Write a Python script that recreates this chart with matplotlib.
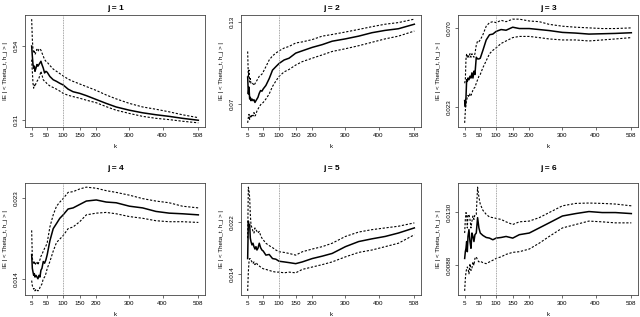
import numpy as np
import matplotlib
matplotlib.use("Agg")
import matplotlib.pyplot as plt

k = [5, 7, 9, 11, 13, 15, 18, 21, 24, 27, 30, 33, 36, 40, 44, 48, 52, 60, 70, 80,
     90, 100, 115, 130, 150, 170, 200, 230, 260, 300, 340, 380, 420, 460, 508]

# j = 1
mean1 = [0.539, 0.508, 0.482, 0.471, 0.477, 0.461, 0.471, 0.482, 0.477, 0.482, 0.487, 0.492,
         0.482, 0.471, 0.456, 0.461, 0.458, 0.445, 0.435, 0.430, 0.424, 0.419, 0.406, 0.398,
         0.393, 0.386, 0.374, 0.362, 0.351, 0.341, 0.333, 0.327, 0.322, 0.316, 0.310]
up1 = [0.622, 0.560, 0.529, 0.518, 0.523, 0.513, 0.520, 0.529, 0.523, 0.529, 0.531, 0.526,
       0.518, 0.508, 0.497, 0.492, 0.489, 0.479, 0.468, 0.461, 0.454, 0.447, 0.437, 0.430,
       0.422, 0.414, 0.402, 0.388, 0.376, 0.362, 0.351, 0.344, 0.336, 0.327, 0.318]
lo1 = [0.497, 0.461, 0.424, 0.409, 0.419, 0.414, 0.424, 0.430, 0.435, 0.440, 0.450, 0.461,
       0.450, 0.435, 0.430, 0.427, 0.422, 0.416, 0.411, 0.406, 0.400, 0.393, 0.387, 0.383,
       0.378, 0.372, 0.364, 0.352, 0.341, 0.331, 0.322, 0.316, 0.312, 0.307, 0.302]

# j = 2
mean2 = [0.0898, 0.0774, 0.0824, 0.0737, 0.0749, 0.0725, 0.0737, 0.0725, 0.0732, 0.0712, 0.0725,
         0.0737, 0.0749, 0.0779, 0.0799, 0.0794, 0.0811, 0.0836, 0.0886, 0.0948, 0.0973, 0.0997,
         0.1022, 0.1035, 0.1072, 0.1089, 0.1114, 0.1134, 0.1159, 0.1176, 0.1196, 0.1221, 0.1238,
         0.1250, 0.1283]
up2 = [0.1084, 0.0898, 0.0948, 0.0861, 0.0886, 0.0849, 0.0854, 0.0849, 0.0836, 0.0849, 0.0861,
       0.0873, 0.0886, 0.0903, 0.0911, 0.0918, 0.0935, 0.0973, 0.1022, 0.1052, 0.1072, 0.1089,
       0.1109, 0.1121, 0.1146, 0.1154, 0.1171, 0.1196, 0.1208, 0.1226, 0.1245, 0.1265, 0.1283,
       0.1295, 0.1320]
lo2 = [0.0563, 0.0601, 0.0625, 0.0588, 0.0613, 0.0601, 0.0625, 0.0613, 0.0638, 0.0613, 0.0625,
       0.0650, 0.0663, 0.0680, 0.0695, 0.0705, 0.0712, 0.0737, 0.0774, 0.0829, 0.0868, 0.0903,
       0.0935, 0.0953, 0.0985, 0.1010, 0.1035, 0.1059, 0.1084, 0.1104, 0.1126, 0.1151, 0.1176,
       0.1196, 0.1233]

# j = 3
mean3 = [0.0267, 0.0230, 0.0288, 0.0391, 0.0381, 0.0401, 0.0391, 0.0412, 0.0401, 0.0432, 0.0401,
         0.0442, 0.0422, 0.0525, 0.0515, 0.0515, 0.0519, 0.0566, 0.0628, 0.0659, 0.0663, 0.0679,
         0.0690, 0.0686, 0.0704, 0.0696, 0.0696, 0.0690, 0.0684, 0.0673, 0.0669, 0.0663, 0.0665,
         0.0667, 0.0671]
up3 = [0.0370, 0.0391, 0.0515, 0.0546, 0.0525, 0.0535, 0.0525, 0.0546, 0.0525, 0.0546, 0.0535,
       0.0525, 0.0546, 0.0597, 0.0622, 0.0618, 0.0628, 0.0659, 0.0710, 0.0731, 0.0737, 0.0731,
       0.0745, 0.0737, 0.0752, 0.0752, 0.0741, 0.0737, 0.0721, 0.0710, 0.0704, 0.0700, 0.0696,
       0.0696, 0.0700]
lo3 = [0.0134, 0.0206, 0.0247, 0.0267, 0.0288, 0.0298, 0.0288, 0.0309, 0.0298, 0.0313, 0.0329,
       0.0340, 0.0346, 0.0370, 0.0391, 0.0412, 0.0422, 0.0463, 0.0504, 0.0546, 0.0566, 0.0581,
       0.0607, 0.0622, 0.0642, 0.0649, 0.0649, 0.0642, 0.0634, 0.0628, 0.0628, 0.0622, 0.0628,
       0.0634, 0.0642]

# j = 4
mean4 = [0.01676, 0.01523, 0.01484, 0.01446, 0.01465, 0.01427, 0.01446, 0.01427, 0.01408, 0.01446,
         0.01427, 0.01503, 0.01523, 0.01599, 0.01580, 0.01618, 0.01676, 0.01829, 0.01963, 0.02020,
         0.02078, 0.02116, 0.02181, 0.02193, 0.02231, 0.02269, 0.02281, 0.02258, 0.02250, 0.02212,
         0.02193, 0.02154, 0.02135, 0.02128, 0.02116]
up4 = [0.01944, 0.01637, 0.01599, 0.01580, 0.01599, 0.01561, 0.01580, 0.01599, 0.01561, 0.01599,
       0.01618, 0.01657, 0.01676, 0.01714, 0.01745, 0.01771, 0.01810, 0.01982, 0.02116, 0.02212,
       0.02258, 0.02296, 0.02365, 0.02373, 0.02403, 0.02423, 0.02411, 0.02384, 0.02365, 0.02334,
       0.02296, 0.02269, 0.02250, 0.02212, 0.02193]
lo4 = [0.01388, 0.01331, 0.01312, 0.01293, 0.01300, 0.01274, 0.01293, 0.01281, 0.01274, 0.01281,
       0.01312, 0.01331, 0.01350, 0.01408, 0.01427, 0.01465, 0.01523, 0.01599, 0.01714, 0.01810,
       0.01848, 0.01886, 0.01963, 0.01982, 0.02040, 0.02116, 0.02135, 0.02143, 0.02128, 0.02097,
       0.02078, 0.02051, 0.02040, 0.02040, 0.02032]

# j = 5
mean5 = [0.01637, 0.02216, 0.02137, 0.02163, 0.01953, 0.01900, 0.01848, 0.01874, 0.01821, 0.01784,
         0.01821, 0.01769, 0.01795, 0.01874, 0.01806, 0.01769, 0.01753, 0.01690, 0.01700, 0.01637,
         0.01627, 0.01595, 0.01585, 0.01574, 0.01558, 0.01585, 0.01637, 0.01674, 0.01716, 0.01821,
         0.01900, 0.01942, 0.01979, 0.02032, 0.02111]
up5 = [0.01953, 0.02742, 0.02689, 0.02584, 0.02321, 0.02163, 0.02111, 0.02058, 0.02032, 0.02111,
       0.02084, 0.02058, 0.02032, 0.02058, 0.01995, 0.01953, 0.01926, 0.01874, 0.01837, 0.01806,
       0.01769, 0.01742, 0.01732, 0.01716, 0.01690, 0.01742, 0.01784, 0.01821, 0.01874, 0.01979,
       0.02047, 0.02084, 0.02111, 0.02137, 0.02189]
lo5 = [0.01137, 0.01427, 0.01585, 0.01637, 0.01637, 0.01611, 0.01585, 0.01558, 0.01585, 0.01543,
       0.01574, 0.01558, 0.01532, 0.01521, 0.01506, 0.01490, 0.01479, 0.01469, 0.01453, 0.01437,
       0.01427, 0.01427, 0.01416, 0.01427, 0.01416, 0.01469, 0.01506, 0.01543, 0.01585, 0.01663,
       0.01732, 0.01769, 0.01821, 0.01874, 0.02005]

# j = 6
mean6 = [0.00934, 0.00987, 0.01014, 0.01067, 0.00987, 0.01107, 0.01161, 0.01067, 0.01014, 0.01134,
         0.01107, 0.01067, 0.01121, 0.01134, 0.01255, 0.01174, 0.01134, 0.01115, 0.01099, 0.01094,
         0.01081, 0.01094, 0.01099, 0.01107, 0.01094, 0.01121, 0.01134, 0.01174, 0.01214, 0.01268,
         0.01287, 0.01303, 0.01295, 0.01295, 0.01287]
up6 = [0.01134, 0.01241, 0.01295, 0.01281, 0.01174, 0.01268, 0.01281, 0.01241, 0.01174, 0.01228,
       0.01268, 0.01241, 0.01281, 0.01281, 0.01495, 0.01415, 0.01362, 0.01313, 0.01281, 0.01260,
       0.01255, 0.01249, 0.01241, 0.01222, 0.01201, 0.01222, 0.01228, 0.01255, 0.01295, 0.01348,
       0.01367, 0.01370, 0.01367, 0.01362, 0.01348]
lo6 = [0.00679, 0.00773, 0.00827, 0.00853, 0.00867, 0.00853, 0.00813, 0.00893, 0.00840, 0.00859,
       0.00907, 0.00880, 0.00934, 0.00947, 0.00920, 0.00907, 0.00912, 0.00901, 0.00893, 0.00907,
       0.00920, 0.00934, 0.00947, 0.00966, 0.00982, 0.00987, 0.01008, 0.01054, 0.01107, 0.01174,
       0.01201, 0.01228, 0.01222, 0.01214, 0.01214]

means = [mean1, mean2, mean3, mean4, mean5, mean6]
ups = [up1, up2, up3, up4, up5, up6]
los = [lo1, lo2, lo3, lo4, lo5, lo6]
yticks = [[0.31, 0.54], [0.07, 0.13], [0.023, 0.070], [0.014, 0.023], [0.014, 0.022], [0.0088, 0.0130]]
ytlabels = [["0.31", "0.54"], ["0.07", "0.13"], ["0.023", "0.070"], ["0.014", "0.023"],
            ["0.014", "0.022"], ["0.0088", "0.0130"]]
xticks = [5, 50, 100, 150, 200, 300, 400, 508]

plt.rcParams['font.family'] = ['Liberation Sans', 'DejaVu Sans']
fig = plt.figure(figsize=(6.4, 3.17), dpi=100)

lefts = [25/640, 241/640, 458/640]
bottoms = [1 - 127/317, 1 - 295/317]
w = 180/640
h = 112/317
title_pad = [3.5, 9]

for i in range(6):
    r, c = divmod(i, 3)
    ax = fig.add_axes([lefts[c], bottoms[r], w, h])
    ax.plot(k, means[i], color='black', lw=1.1)
    ax.plot(k, ups[i], color='black', lw=0.8, ls=(0, (2, 1.5)))
    ax.plot(k, los[i], color='black', lw=0.8, ls=(0, (2, 1.5)))
    ax.axvline(100, color='#888888', lw=0.6, ls=(0, (1, 1)))
    ax.margins(x=0.04, y=0.04)
    ax.set_xticks(xticks)
    ax.set_yticks(yticks[i])
    ax.set_yticklabels(ytlabels[i], rotation=90, va='center')
    ax.tick_params(labelsize=4.5, length=2.5, width=0.5, pad=2, color='#333333')
    for s in ax.spines.values():
        s.set_linewidth(0.6)
        s.set_color('#444444')
    ax.set_title("j = %d" % (i + 1), fontsize=6, fontweight='bold', pad=title_pad[r])
    ax.set_xlabel("k", fontsize=4.5, labelpad=4)
    ax.set_ylabel("IE | < Theta_t, h_j > |", fontsize=4.5, labelpad=4)

fig.savefig("out.png", dpi=100)
